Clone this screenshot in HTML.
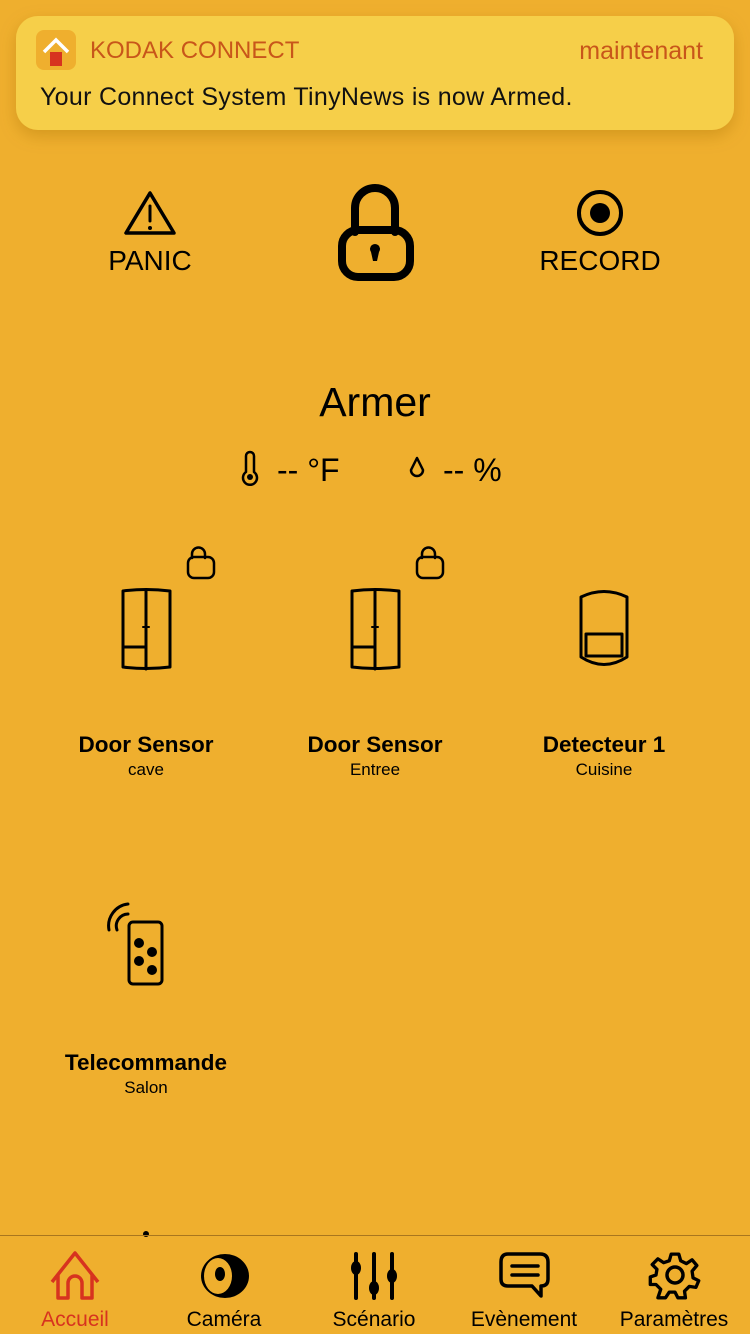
<!DOCTYPE html>
<html><head><meta charset="utf-8"><style>
html,body{margin:0;padding:0;}
body{width:750px;height:1334px;background:#EFAF2E;position:relative;overflow:hidden;font-family:"Liberation Sans",sans-serif;}
.t{position:absolute;white-space:nowrap;}
</style></head><body>
<svg width="750" height="1334" style="position:absolute;left:0;top:0">
<defs><filter id="sh" x="-10%" y="-30%" width="120%" height="160%"><feDropShadow dx="0" dy="6" stdDeviation="8" flood-color="#a06a00" flood-opacity="0.35"/></filter></defs>
<rect x="16" y="16" width="718" height="114" rx="22" fill="#F6CF48" filter="url(#sh)"/>
<rect x="36" y="30" width="40" height="40" rx="8" fill="#EFAF2E"/>
<path d="M44 52 L56 40 L68 52" fill="none" stroke="#fff" stroke-width="3.5"/>
<rect x="50" y="52" width="12" height="14" fill="#D7331F"/>
<g fill="none" stroke="#000" stroke-linecap="round" stroke-linejoin="round">
<path d="M150 193 L126 233 L174 233 Z" stroke-width="3.5"/>
<line x1="150" y1="206" x2="150" y2="221" stroke-width="3"/>
<circle cx="150" cy="228" r="1.5" fill="#000" stroke-width="1"/>
<path d="M355 232 V208 A20 20 0 0 1 395 208 V232" stroke-width="8"/>
<rect x="342" y="230" width="68" height="47" rx="16" stroke-width="8"/>
<circle cx="600" cy="213" r="21" stroke-width="4"/>
<circle cx="600" cy="213" r="10" fill="#000" stroke="none"/>
<path d="M246 472 V456 A4 4 0 0 1 254 456 V472 A7 7 0 1 1 246 472 Z" stroke-width="2.5"/>
<circle cx="250" cy="477" r="3" fill="#000" stroke="none"/>
<path d="M417 458 L411 470 A6 6 0 1 0 423 470 Z" stroke-width="2.5"/>
<path d="M192 558 V554 A6 6 0 0 1 205 554 V558" stroke-width="2.5"/>
<rect x="188" y="557" width="26" height="21" rx="6" stroke-width="2.5"/>
<path d="M422 558 V554 A6 6 0 0 1 435 554 V558" stroke-width="2.5"/>
<rect x="417" y="557" width="26" height="21" rx="6" stroke-width="2.5"/>
<path d="M123 591 Q146 588 170 591 V667 Q146 670 123 667 Z" stroke-width="3"/>
<line x1="146" y1="590" x2="146" y2="669" stroke-width="3"/>
<line x1="123" y1="647" x2="146" y2="647" stroke-width="3"/>
<line x1="143" y1="627" x2="149" y2="627" stroke-width="2"/>
<path d="M352 591 Q375 588 399 591 V667 Q375 670 352 667 Z" stroke-width="3"/>
<line x1="375" y1="590" x2="375" y2="669" stroke-width="3"/>
<line x1="352" y1="647" x2="375" y2="647" stroke-width="3"/>
<line x1="372" y1="627" x2="378" y2="627" stroke-width="2"/>
<path d="M581 597 Q604 586 627 597 V657 Q604 672 581 657 Z" stroke-width="3"/>
<rect x="586" y="634" width="36" height="22" stroke-width="3"/>
<rect x="129" y="922" width="33" height="62" rx="4" stroke-width="3"/>
<path d="M109 930 A22 22 0 0 1 128 904" stroke-width="3"/>
<path d="M117 930 A12 12 0 0 1 128 914" stroke-width="3"/>
</g>
<path d="M371 252 A5 5 0 1 1 379 252 L377 261 H373 Z" fill="#000"/>
<g fill="#000"><circle cx="139" cy="943" r="5"/><circle cx="152" cy="952" r="5"/><circle cx="139" cy="961" r="5"/><circle cx="152" cy="970" r="5"/>
<circle cx="146" cy="1234" r="3"/></g>
<line x1="0" y1="1235.5" x2="750" y2="1235.5" stroke="#A9761E" stroke-width="1"/>
<path d="M52 1282 L75 1253 L98 1282 M58 1274 V1298 H68 V1283 A7 7 0 0 1 82 1283 V1298 H92 V1274" fill="none" stroke="#D7331F" stroke-width="3.5" stroke-linejoin="round"/>
<ellipse cx="225" cy="1276" rx="24" ry="22" fill="#000"/>
<ellipse cx="218" cy="1276" rx="14" ry="18" fill="#EFAF2E"/>
<ellipse cx="220" cy="1274" rx="5" ry="7" fill="#000"/>
<g stroke="#000" stroke-width="4" stroke-linecap="round"><line x1="356" y1="1254" x2="356" y2="1298"/><line x1="374" y1="1254" x2="374" y2="1298"/><line x1="392" y1="1254" x2="392" y2="1298"/></g>
<g fill="#000"><ellipse cx="356" cy="1268" rx="5" ry="7"/><ellipse cx="374" cy="1288" rx="5" ry="7"/><ellipse cx="392" cy="1276" rx="5" ry="7"/></g>
<path d="M508 1254 H540 Q548 1254 548 1262 V1279 Q548 1286 541 1286 V1296 L532 1286 H508 Q501 1286 501 1279 V1262 Q501 1254 508 1254 Z" fill="none" stroke="#000" stroke-width="3.5" stroke-linejoin="round"/>
<g stroke="#000" stroke-width="3.5" stroke-linecap="round"><line x1="512" y1="1266" x2="538" y2="1266"/><line x1="512" y1="1275" x2="538" y2="1275"/></g>
<g transform="translate(675 1275)" fill="none" stroke="#000" stroke-width="3.5" stroke-linejoin="round">
<path d="M-4 -22 H4 L6 -15 L12 -12 L18 -16 L23 -10 L18 -4 L19 3 L25 6 L22 13 L15 12 L10 17 L11 24 H3 L0 18 L-6 18 L-10 24 H-18 L-15 15 L-20 10 L-26 10 L-26 2 L-20 0 L-19 -6 L-24 -11 L-18 -17 L-12 -13 L-6 -15 Z" transform="scale(0.95)"/>
<circle cx="0" cy="0" r="8"/>
</g>
</svg>
<div class="t" style="left:90px;top:37px;font-size:24px;color:#C8561A;">KODAK CONNECT</div>
<div class="t" style="right:47px;top:37px;font-size:25px;color:#C8561A;">maintenant</div>
<div class="t" style="left:40px;top:83px;font-size:25px;color:#111;letter-spacing:0.3px;">Your Connect System TinyNews is now Armed.</div>
<div class="t" style="left:0;width:300px;top:245px;text-align:center;font-size:28px;">PANIC</div>
<div class="t" style="left:450px;width:300px;top:245px;text-align:center;font-size:28px;">RECORD</div>
<div class="t" style="left:0;width:750px;top:379px;text-align:center;font-size:41px;">Armer</div>
<div class="t" style="left:277px;top:452px;font-size:32px;">-- °F</div>
<div class="t" style="left:443px;top:452px;font-size:32px;">-- %</div>
<div class="t" style="left:46px;width:200px;top:732px;text-align:center;font-size:22.5px;font-weight:bold;">Door Sensor</div>
<div class="t" style="left:46px;width:200px;top:760px;text-align:center;font-size:17px;">cave</div>
<div class="t" style="left:275px;width:200px;top:732px;text-align:center;font-size:22.5px;font-weight:bold;">Door Sensor</div>
<div class="t" style="left:275px;width:200px;top:760px;text-align:center;font-size:17px;">Entree</div>
<div class="t" style="left:504px;width:200px;top:732px;text-align:center;font-size:22.5px;font-weight:bold;">Detecteur 1</div>
<div class="t" style="left:504px;width:200px;top:760px;text-align:center;font-size:17px;">Cuisine</div>
<div class="t" style="left:46px;width:200px;top:1050px;text-align:center;font-size:22.5px;font-weight:bold;">Telecommande</div>
<div class="t" style="left:46px;width:200px;top:1078px;text-align:center;font-size:17px;">Salon</div>
<div class="t" style="left:0;width:150px;top:1308px;text-align:center;font-size:21px;color:#D7331F;">Accueil</div>
<div class="t" style="left:149px;width:150px;top:1308px;text-align:center;font-size:21px;">Caméra</div>
<div class="t" style="left:299px;width:150px;top:1308px;text-align:center;font-size:21px;">Scénario</div>
<div class="t" style="left:449px;width:150px;top:1308px;text-align:center;font-size:21px;">Evènement</div>
<div class="t" style="left:599px;width:150px;top:1308px;text-align:center;font-size:21px;">Paramètres</div>
</body></html>
